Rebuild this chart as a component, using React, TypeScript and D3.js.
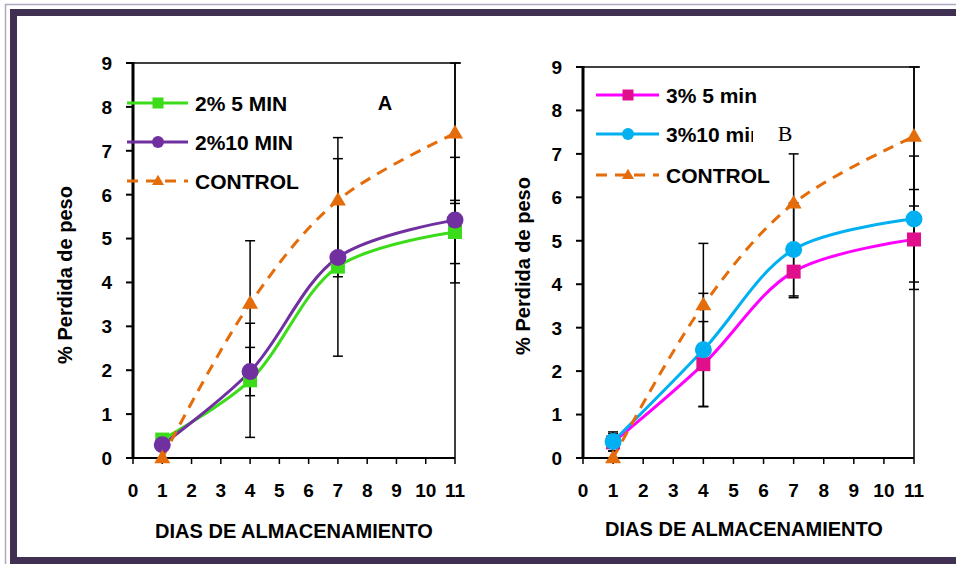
import * as d3 from "d3";

const days = [1, 4, 7, 11];
const xTicks = d3.range(0, 12);
const yTicks = d3.range(0, 10);

// panel A
const a5 = [0.42, 1.77, 4.36, 5.15];
const a5Err = [0.08, 1.3, 0.23, 0.72];
const a10 = [0.3, 1.97, 4.57, 5.42];
const a10Err = [0.08, 0.55, 2.25, 1.43];
const aCtrl = [0, 3.52, 5.87, 7.4];
const aCtrlErr = [0, 1.43, 1.43, 1.6];

// panel B
const b5 = [0.36, 2.16, 4.29, 5.03];
const b5Err = [0.2, 0.98, 0.6, 1.15];
const b10 = [0.38, 2.49, 4.8, 5.5];
const b10Err = [0.22, 1.3, 1.07, 1.45];
const bCtrl = [0, 3.52, 5.86, 7.4];
const bCtrlErr = [0, 1.42, 1.14, 1.6];

const labelsA = ["2% 5 MIN", "2%10 MIN", "CONTROL"];
const labelsB = ["3% 5 min", "3%10 min", "CONTROL"];
const yTitle = "% Perdida de peso";
const xTitle = "DIAS DE ALMACENAMIENTO";

const FONT = "Arial, 'Liberation Sans', sans-serif";
const ORANGE = "#e46c0a";

type Series = {
  values: number[];
  err: number[];
  line: string;
  fill: string;
  shape: "square" | "circle" | "triangle";
  dashed?: boolean;
};

function Marker({ shape, x, y, fill, s }: { shape: string; x: number; y: number; fill: string; s: number }) {
  if (shape === "square") return <rect x={x - s / 2} y={y - s / 2} width={s} height={s} fill={fill} />;
  if (shape === "circle") return <circle cx={x} cy={y} r={s / 2} fill={fill} />;
  const h = s * 0.85;
  return <path d={`M${x},${y - h * 0.62}L${x + s / 2},${y + h * 0.38}L${x - s / 2},${y + h * 0.38}Z`} fill={fill} />;
}

function Panel(props: {
  id: string;
  x0: number;
  x1: number;
  y0: number;
  y1: number;
  series: Series[];
  labels: string[];
  leg: { lx0: number; lx1: number; mx: number; tx: number; rows: number[]; clip?: number; clipRow?: number };
  letter: { text: string; x: number; y: number; serif?: boolean };
  yTitlePos: [number, number];
  xTitlePos: [number, number];
}) {
  const { x0, x1, y0, y1, series, labels, leg, letter } = props;
  const x = d3.scaleLinear().domain([0, 11]).range([x0, x1]);
  const y = d3.scaleLinear().domain([0, 9]).range([y0, y1]);
  const line = d3
    .line<number>()
    .x((_, i) => x(days[i]))
    .y((v) => y(v))
    .curve(d3.curveCatmullRom.alpha(0.5));
  const sizes = { square: 14, circle: 17, triangle: 16 };
  const legSizes = { square: 11, circle: 12, triangle: 12 };

  return (
    <g>
      {/* plot box */}
      <line x1={x0} x2={x1 + 6} y1={y1} y2={y1} stroke="#000" strokeWidth={1.5} />
      <line x1={x1} x2={x1} y1={y1} y2={y0} stroke="#000" strokeWidth={1.5} />
      <line x1={x0} x2={x1} y1={y0} y2={y0} stroke="#000" strokeWidth={2} />
      {xTicks.map((t) => (
        <g key={t}>
          <line x1={x(t)} x2={x(t)} y1={y0} y2={y0 + 6} stroke="#000" strokeWidth={1.5} />
          <text x={x(t)} y={y0 + 39} textAnchor="middle" fontFamily={FONT} fontWeight="bold" fontSize={19}>
            {t}
          </text>
        </g>
      ))}
      {yTicks.map((t) => (
        <g key={t}>
          <line x1={x0 - 7} x2={x0} y1={y(t)} y2={y(t)} stroke="#000" strokeWidth={2} />
          <text x={x0 - 21} y={y(t)} dy="0.36em" textAnchor="end" fontFamily={FONT} fontWeight="bold" fontSize={19}>
            {t}
          </text>
        </g>
      ))}

      {/* error bars */}
      {series.map((s, si) =>
        s.values.map((v, i) =>
          s.err[i] > 0 ? (
            <g key={`${si}-${i}`} stroke="#000" strokeWidth={1.5}>
              <line x1={x(days[i])} x2={x(days[i])} y1={y(v - s.err[i])} y2={y(v + s.err[i])} />
              <line x1={x(days[i]) - 5} x2={x(days[i]) + 5} y1={y(v - s.err[i])} y2={y(v - s.err[i])} />
              <line x1={x(days[i]) - 5} x2={x(days[i]) + 5} y1={y(v + s.err[i])} y2={y(v + s.err[i])} />
            </g>
          ) : null
        )
      )}

      {series.map((s, si) => (
        <path
          key={si}
          d={line(s.values) || ""}
          fill="none"
          stroke={s.line}
          strokeWidth={3}
          strokeDasharray={s.dashed ? "11 8" : undefined}
        />
      ))}
      {series.map((s, si) =>
        s.values.map((v, i) => (
          <Marker key={`${si}-${i}`} shape={s.shape} x={x(days[i])} y={y(v)} fill={s.fill} s={sizes[s.shape]} />
        ))
      )}

      <line x1={x0} x2={x0} y1={y1 - 1} y2={y0 + 1} stroke="#000" strokeWidth={3} />

      {/* legend */}
      <defs>
        <clipPath id={`clip-${props.id}`}>
          <rect x={0} y={0} width={leg.clip ?? 956} height={564} />
        </clipPath>
      </defs>
      {series.map((s, si) => (
        <g key={si}>
          <line
            x1={leg.lx0}
            x2={leg.lx1}
            y1={leg.rows[si]}
            y2={leg.rows[si]}
            stroke={s.line}
            strokeWidth={3}
            strokeDasharray={s.dashed ? "11 8" : undefined}
          />
          <Marker shape={s.shape} x={leg.mx} y={leg.rows[si]} fill={s.fill} s={legSizes[s.shape]} />
          <text
            x={leg.tx}
            y={leg.rows[si]}
            dy="0.36em"
            fontFamily={FONT}
            fontWeight="bold"
            fontSize={21}
            clipPath={leg.clipRow === si ? `url(#clip-${props.id})` : undefined}
          >
            {labels[si]}
          </text>
        </g>
      ))}
      <text
        x={letter.x}
        y={letter.y}
        textAnchor="middle"
        fontFamily={letter.serif ? "'Liberation Serif', 'Times New Roman', serif" : FONT}
        fontWeight={letter.serif ? "normal" : "bold"}
        fontSize={letter.serif ? 22 : 20}
      >
        {letter.text}
      </text>

      <text
        transform={`translate(${props.yTitlePos[0]},${props.yTitlePos[1]}) rotate(-90)`}
        textAnchor="middle"
        dy="0.36em"
        fontFamily={FONT}
        fontWeight="bold"
        fontSize={20}
      >
        {yTitle}
      </text>
      <text
        x={props.xTitlePos[0]}
        y={props.xTitlePos[1]}
        textAnchor="middle"
        fontFamily={FONT}
        fontWeight="bold"
        fontSize={20}
      >
        {xTitle}
      </text>
    </g>
  );
}

export default function App() {
  const seriesA: Series[] = [
    { values: a5, err: a5Err, line: "#3ddc1a", fill: "#3ddc1a", shape: "square" },
    { values: a10, err: a10Err, line: "#7030a0", fill: "#7030a0", shape: "circle" },
    { values: aCtrl, err: aCtrlErr, line: ORANGE, fill: ORANGE, shape: "triangle", dashed: true },
  ];
  const seriesB: Series[] = [
    { values: b5, err: b5Err, line: "#ff00ff", fill: "#e0108c", shape: "square" },
    { values: b10, err: b10Err, line: "#00b0f0", fill: "#00b0f0", shape: "circle" },
    { values: bCtrl, err: bCtrlErr, line: ORANGE, fill: ORANGE, shape: "triangle", dashed: true },
  ];

  return (
    <svg width={956} height={564} style={{ position: "absolute", left: 0, top: 0, background: "#fff" }}>
      {/* frame */}
      <rect x={5.5} y={4.5} width={980} height={600} fill="none" stroke="#b0a8c0" strokeWidth={1.5} />
      <rect x={13.5} y={12.5} width={980} height={548} fill="none" stroke="#403152" strokeWidth={7} />

      <Panel
        id="a"
        x0={133}
        x1={455}
        y0={458}
        y1={63}
        series={seriesA}
        labels={labelsA}
        leg={{ lx0: 127, lx1: 188, mx: 158, tx: 195, rows: [103, 142, 181] }}
        letter={{ text: "A", x: 385, y: 110 }}
        yTitlePos={[65, 275]}
        xTitlePos={[294, 538]}
      />
      <Panel
        id="b"
        x0={583}
        x1={914}
        y0={458}
        y1={67}
        series={seriesB}
        labels={labelsB}
        leg={{ lx0: 596, lx1: 659, mx: 628, tx: 666, rows: [95, 134, 175], clip: 753, clipRow: 1 }}
        letter={{ text: "B", x: 785, y: 141, serif: true }}
        yTitlePos={[523, 266]}
        xTitlePos={[744, 536]}
      />
    </svg>
  );
}
